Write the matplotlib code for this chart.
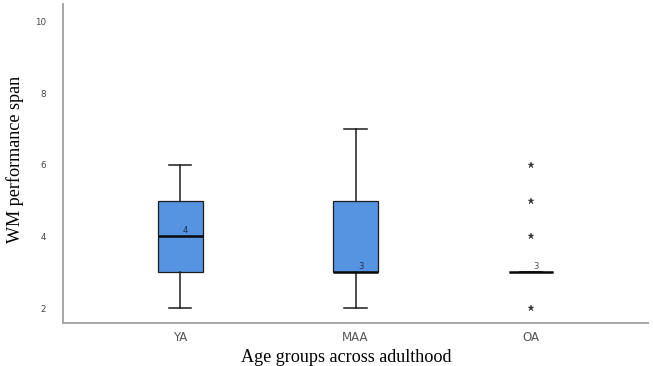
import matplotlib
matplotlib.use("Agg")
import matplotlib.pyplot as plt

# values
groups = ["YA", "MAA", "OA"]
whislo = [2, 2, 3]
q1 = [3, 3, 3]
med = [4, 3, 3]
q3 = [5, 5, 3]
whishi = [6, 7, 3]
outliers = [[], [], [2, 4, 5, 6]]

fig = plt.figure(figsize=(6.53, 3.66), dpi=100)
ax = fig.add_axes([62.5 / 653, 1 - 322.7 / 366, (648 - 62.5) / 653, (322.7 - 4) / 366])

stats = []
for i, g in enumerate(groups):
    stats.append(dict(label=g, whislo=whislo[i], q1=q1[i], med=med[i],
                      q3=q3[i], whishi=whishi[i], fliers=outliers[i]))

pos = list(range(len(groups)))
ax.bxp(stats, positions=pos, widths=0.256, patch_artist=True,
       boxprops=dict(facecolor="#5694e1", edgecolor="#1c1c1c", linewidth=0.9),
       medianprops=dict(color="#0a0a0a", linewidth=1.8),
       whiskerprops=dict(color="#1c1c1c", linewidth=1.1),
       capprops=dict(color="#1c1c1c", linewidth=1.1),
       capwidths=0.128,
       flierprops=dict(marker="*", markersize=4.5, markerfacecolor="#333333",
                       markeredgecolor="#333333", markeredgewidth=0.3,
                       linestyle="none"))

for i in range(len(groups)):
    c = "#4d4d4d" if q1[i] == q3[i] else "#1b2f4f"
    ax.text(pos[i] + 0.03, med[i] + 0.03, str(med[i]), fontsize=6,
            color=c, ha="center", va="bottom")

ax.set_xlim(-0.67, 2.667)
ax.set_ylim(1.59, 10.49)
ax.set_yticks([2, 4, 6, 8, 10])
ax.set_xticks(pos)
ax.set_xticklabels(groups)
ax.tick_params(axis="y", length=0, labelsize=6.3, labelcolor="#444444", pad=12)
ax.tick_params(axis="x", length=0, labelsize=8.5, labelcolor="#555555", pad=6)

for s in ["top", "right"]:
    ax.spines[s].set_visible(False)
for s in ["left", "bottom"]:
    ax.spines[s].set_color("#a6a6a6")
    ax.spines[s].set_linewidth(1.4)

ax.set_ylabel("WM performance span", fontsize=13.1, family="Liberation Serif")
ax.set_xlabel("Age groups across adulthood", fontsize=13.1,
              family="Liberation Serif", labelpad=3)
ax.yaxis.set_label_coords(-38.5 / 585.5, 0.513)
ax.xaxis.set_label_coords(0.485, -26 / 318.7)
ax.xaxis.label.set_va("top")

fig.savefig("out.png", dpi=100)
